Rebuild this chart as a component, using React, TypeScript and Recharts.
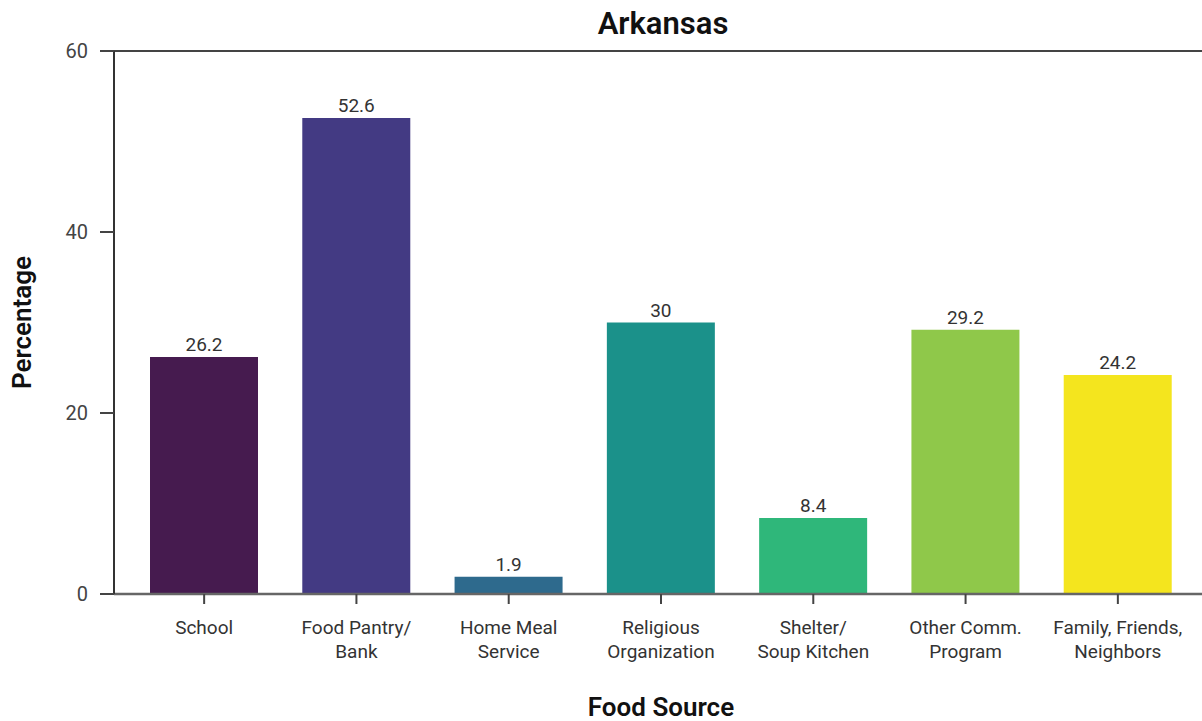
import React from "react";
import {
  Bar,
  BarChart,
  Cell,
  LabelList,
  ReferenceLine,
  XAxis,
  YAxis,
} from "recharts";

const sources = [
  "School",
  "Food Pantry/\nBank",
  "Home Meal\nService",
  "Religious\nOrganization",
  "Shelter/\nSoup Kitchen",
  "Other Comm.\nProgram",
  "Family, Friends,\nNeighbors",
];
const percentages = [26.2, 52.6, 1.9, 30, 8.4, 29.2, 24.2];
const barColors = [
  "#461b4f",
  "#433a83",
  "#2e6a8d",
  "#1b918a",
  "#2fb77a",
  "#8fc84a",
  "#f4e51e",
];
const yTicks = [0, 20, 40, 60];

const data = sources.map((source, i) => ({ source, pct: percentages[i] }));

const FONT = "Roboto, 'Open Sans', sans-serif";

function SourceTick(props: any) {
  const { x, y, payload } = props;
  const lines = String(payload.value).split("\n");
  return (
    <text
      x={x}
      y={y}
      textAnchor="middle"
      fill="#333"
      fontSize={19}
      fontFamily={FONT}
    >
      {lines.map((line, i) => (
        <tspan key={i} x={x} dy={i === 0 ? 24 : 24}>
          {line}
        </tspan>
      ))}
    </text>
  );
}

export default function App() {
  return (
    <div
      style={{
        position: "absolute",
        left: 0,
        top: 0,
        width: 1202,
        height: 721,
        overflow: "hidden",
        background: "#fff",
      }}
    >
      <div
        style={{
          position: "absolute",
          left: 463,
          top: 5,
          width: 400,
          textAlign: "center",
          fontFamily: FONT,
          fontWeight: 600,
          fontSize: 31,
          color: "#111",
        }}
      >
        Arkansas
      </div>
      <BarChart
        width={1215}
        height={721}
        data={data}
        margin={{ top: 51, right: 7, bottom: 0, left: 0 }}
      >
        <ReferenceLine y={60} stroke="#444" strokeWidth={2} ifOverflow="visible" />
        <XAxis
          dataKey="source"
          height={127}
          padding={{ left: 14, right: 14 }}
          interval={0}
          tick={<SourceTick />}
          tickSize={10}
          tickMargin={6}
          axisLine={{ stroke: "#666", strokeWidth: 2.5 }}
          tickLine={{ stroke: "#444", strokeWidth: 2 }}
          label={{
            value: "Food Source",
            position: "insideBottom",
            offset: 5,
            fontFamily: FONT,
            fontWeight: 600,
            fontSize: 26,
            fill: "#111",
          }}
        />
        <YAxis
          width={114}
          domain={[0, 60]}
          ticks={yTicks}
          tickSize={14}
          tickMargin={12}
          tick={{ fill: "#444", fontSize: 20, fontFamily: FONT }}
          axisLine={{ stroke: "#333", strokeWidth: 2 }}
          tickLine={{ stroke: "#444", strokeWidth: 2 }}
          label={{
            value: "Percentage",
            angle: -90,
            position: "insideLeft",
            offset: 22,
            style: { textAnchor: "middle" },
            fontFamily: FONT,
            fontWeight: 600,
            fontSize: 26,
            fill: "#111",
          }}
        />
        <Bar dataKey="pct" barSize={108} isAnimationActive={false}>
          {data.map((_, i) => (
            <Cell key={i} fill={barColors[i]} />
          ))}
          <LabelList
            dataKey="pct"
            position="top"
            offset={6}
            fill="#333"
            fontSize={19}
            fontFamily={FONT}
          />
        </Bar>
      </BarChart>
    </div>
  );
}
